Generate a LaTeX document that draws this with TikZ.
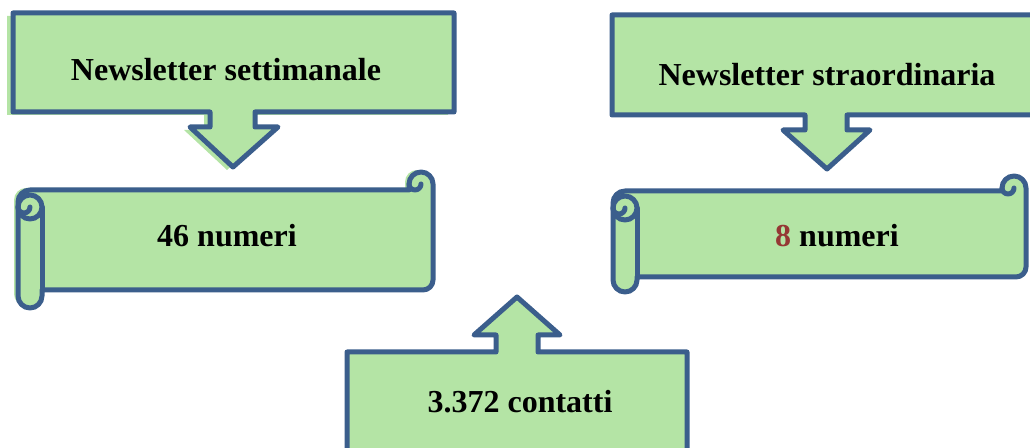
\documentclass[tikz,border=0pt]{standalone}
\usepackage{fontspec}
\setmainfont{Liberation Serif}
\definecolor{boxfill}{RGB}{180,228,165}
\definecolor{boxline}{RGB}{59,94,140}
\definecolor{numred}{RGB}{149,55,52}
\tikzset{
  shapefill/.style={fill=boxfill, draw=none},
  shapeline/.style={draw=boxline, line width=5bp, line join=round, line cap=round},
  txt/.style={font=\fontsize{32bp}{38bp}\selectfont\bfseries, inner sep=0pt}
}
% scroll: #1 L, #2 R, #3 T, #4 B, #5 gap, #6 fill shift
\newcommand\myscroll[6]{%
  \pgfmathsetmacro\yt{#3+#5}%
  \pgfmathsetmacro\yb{#4-#5}%
  \pgfmathsetmacro\cy{\yt+17}%
  \pgfmathsetmacro\xa{#1+12}%
  \pgfmathsetmacro\xb{#1+24}%
  \pgfmathsetmacro\xc{#2-24}%
  \pgfmathsetmacro\xd{#2-12}%
  \pgfmathsetmacro\ya{#3+12}%
  \pgfmathsetmacro\yc{\yt+12}%
  \pgfmathsetmacro\yd{#4-12}%
  \pgfmathsetmacro\ye{\yb-10}%
  \foreach \sh in {#6,{(0,0)}}{%
  \fill[shapefill, shift=\sh] (#1,\yc) arc[start angle=-180,end angle=-90,radius=12]
     -- (\xc,\yt) -- (\xc,\ya) arc[start angle=-180,end angle=0,radius=12]
     -- (#2,\ye) arc[start angle=0,end angle=90,radius=10]
     -- (\xb,\yb) -- (\xb,\yd) arc[start angle=0,end angle=180,radius=12] -- cycle;}
  \draw[shapeline] (#1,\yc) arc[start angle=-180,end angle=-90,radius=12]
     -- (\xc,\yt) -- (\xc,\ya) arc[start angle=-180,end angle=0,radius=12]
     -- (#2,\ye) arc[start angle=0,end angle=90,radius=10]
     -- (\xb,\yb) -- (\xb,\yd) arc[start angle=0,end angle=180,radius=12] -- cycle;
  \draw[shapeline] (\xb,\yb) -- (\xb,\cy);
  \draw[shapeline] (\xa,\cy) circle[radius=12];
  \draw[shapeline] (\xd,\ya) arc[start angle=0,end angle=180,radius=6];
  \draw[shapeline] (\xa,\cy) arc[start angle=0,end angle=180,radius=6];
}
\begin{document}
\begin{tikzpicture}[x=1bp,y=-1bp]
\useasboundingbox (0,0) rectangle (1030,448);
\clip (0,0) rectangle (1030,448);

% left top callout (down arrow)
\foreach \sh in {{(-6,3)},{(0,0)}}{%
\fill[shapefill, shift=\sh] (13,13) -- (454,13) -- (454,112) -- (255,112) -- (255,127) -- (278,127)
  -- (233,167) -- (190,127) -- (210,127) -- (210,112) -- (13,112) -- cycle;}
\draw[shapeline] (13,13) -- (454,13) -- (454,112) -- (255,112) -- (255,127) -- (278,127)
  -- (233,167) -- (190,127) -- (210,127) -- (210,112) -- (13,112) -- cycle;

% right top callout (down arrow)
\fill[shapefill] (612,15) -- (1040,15) -- (1040,115) -- (847,115) -- (847,130) -- (870,130)
  -- (827,169) -- (783,130) -- (805,130) -- (805,115) -- (612,115) -- cycle;
\draw[shapeline] (612,15) -- (1040,15) -- (1040,115) -- (847,115) -- (847,130) -- (870,130)
  -- (827,169) -- (783,130) -- (805,130) -- (805,115) -- (612,115) -- cycle;

% bottom callout (up arrow)
\fill[shapefill] (347,470) -- (347,352) -- (496,352) -- (496,335) -- (474,335) -- (517,297)
  -- (560,335) -- (538,335) -- (538,352) -- (687,352) -- (687,470) -- cycle;
\draw[shapeline] (347,470) -- (347,352) -- (496,352) -- (496,335) -- (474,335) -- (517,297)
  -- (560,335) -- (538,335) -- (538,352) -- (687,352) -- (687,470) -- cycle;

% scrolls
\myscroll{18}{433}{172}{308}{18}{{(-4,-2)}}
\myscroll{613}{1026}{176}{292}{15}{{(0,0)}}

% texts
\node[txt] (t1) at (226,70) {Newsletter settimanale};
\node[txt] (t2) at (827,75) {Newsletter straordinaria};
\node[txt] (n1) at (227,236) {46 numeri};
\node[txt] (n2) at (837,236) {\textcolor{numred}{8} numeri};
\node[txt] (n3) at (520,402) {3.372 contatti};
\end{tikzpicture}
\end{document}
